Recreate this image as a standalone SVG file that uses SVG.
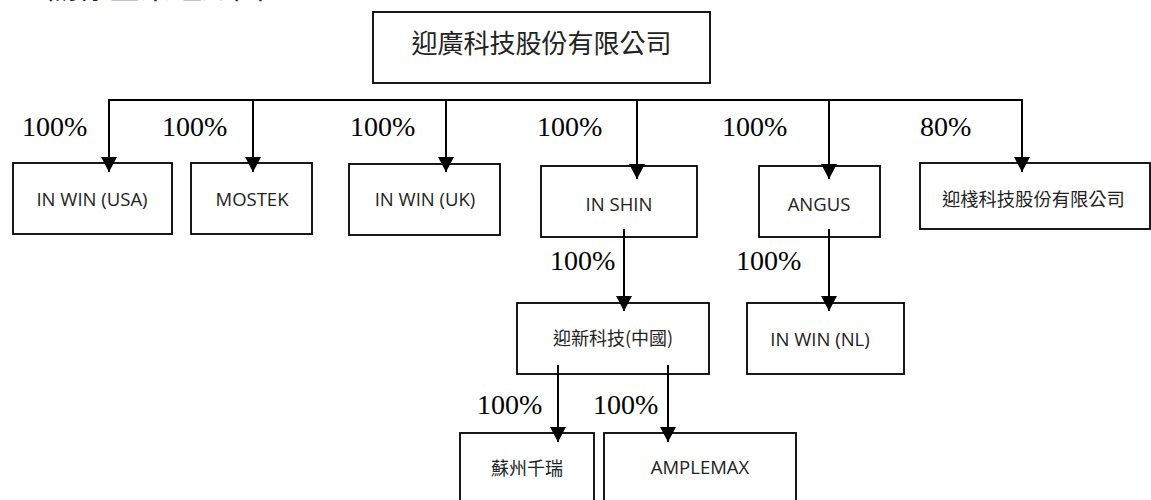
<svg xmlns="http://www.w3.org/2000/svg" width="1151" height="500" viewBox="0 0 1151 500">
<style>
.box{fill:#fff;stroke:#000;stroke-width:1.8}
.cn{font-family:"Noto Sans CJK TC","Noto Sans CJK SC",sans-serif;fill:#222}
.lat{font-family:"Open Sans","Noto Sans",sans-serif;font-size:18.5px;fill:#222}
.pct{font-family:"Liberation Serif",serif;font-size:28px;fill:#000}
.ln{stroke:#000;stroke-width:2;fill:none}
.arr{stroke:#000;stroke-width:2;fill:none;marker-end:url(#ah)}
</style>
<defs>
<marker id="ah" markerUnits="userSpaceOnUse" viewBox="0 0 15 16" refX="15" refY="8" markerWidth="15" markerHeight="16" orient="auto">
<path d="M0,0 L15,8 L0,16 z" fill="#000"/>
</marker>
</defs>
<rect width="1151" height="500" fill="#fff"/>
<text class="cn" x="47" y="-2" font-size="31">關係企業組織圖</text>

<g id="n-top"><rect class="box" x="373" y="12" width="337" height="71"/><text class="cn" x="541.5" y="53" font-size="26" text-anchor="middle">迎廣科技股份有限公司</text></g>
<g id="n-usa"><rect class="box" x="13" y="163" width="159" height="71"/><text class="lat" x="92" y="206" text-anchor="middle">IN WIN (USA)</text></g>
<g id="n-mostek"><rect class="box" x="191" y="163" width="121" height="71"/><text class="lat" x="252" y="206" text-anchor="middle">MOSTEK</text></g>
<g id="n-uk"><rect class="box" x="349" y="164" width="151" height="71"/><text class="lat" x="425" y="206" text-anchor="middle">IN WIN (UK)</text></g>
<g id="n-inshin"><rect class="box" x="541" y="166" width="156" height="71"/><text class="lat" x="619" y="211" text-anchor="middle">IN SHIN</text></g>
<g id="n-angus"><rect class="box" x="759" y="166" width="121" height="71"/><text class="lat" x="819" y="211" text-anchor="middle">ANGUS</text></g>
<g id="n-inzhan"><rect class="box" x="920" y="163" width="230" height="66"/><text class="cn" x="942" y="206" font-size="18.3">迎棧科技股份有限公司</text></g>
<g id="n-inxin"><rect class="box" x="517" y="303" width="192" height="71"/><text class="cn" x="613" y="345" font-size="18" text-anchor="middle">迎新科技(中國)</text></g>
<g id="n-nl"><rect class="box" x="747" y="303" width="157" height="71"/><text class="lat" x="820" y="346" text-anchor="middle">IN WIN (NL)</text></g>
<g id="n-suzhou"><rect class="box" x="460" y="433" width="134" height="80"/><text class="cn" x="527" y="475" font-size="18" text-anchor="middle">蘇州千瑞</text></g>
<g id="n-amplemax"><rect class="box" x="604" y="433" width="192" height="80"/><text class="lat" x="700" y="474" text-anchor="middle">AMPLEMAX</text></g>

<g id="connectors">
<line class="ln" x1="108" y1="100" x2="1023" y2="100"/>
<line class="arr" x1="109" y1="100" x2="109" y2="172"/>
<line class="arr" x1="253" y1="100" x2="253" y2="172"/>
<line class="arr" x1="446" y1="100" x2="446" y2="172"/>
<line class="arr" x1="637" y1="100" x2="637" y2="179"/>
<line class="arr" x1="829" y1="100" x2="829" y2="179"/>
<line class="arr" x1="1022" y1="100" x2="1022" y2="172"/>
<line class="arr" x1="624" y1="229" x2="624" y2="311"/>
<line class="arr" x1="829" y1="229" x2="829" y2="311"/>
<line class="arr" x1="558" y1="365" x2="558" y2="442"/>
<line class="arr" x1="668" y1="365" x2="668" y2="442"/>
<text class="pct" x="22" y="136">100%</text>
<text class="pct" x="162" y="136">100%</text>
<text class="pct" x="350" y="136">100%</text>
<text class="pct" x="537" y="136">100%</text>
<text class="pct" x="722" y="136">100%</text>
<text class="pct" x="920" y="136">80%</text>
<text class="pct" x="550" y="270">100%</text>
<text class="pct" x="736" y="270">100%</text>
<text class="pct" x="477" y="414">100%</text>
<text class="pct" x="593" y="414">100%</text>
</g>
</svg>
